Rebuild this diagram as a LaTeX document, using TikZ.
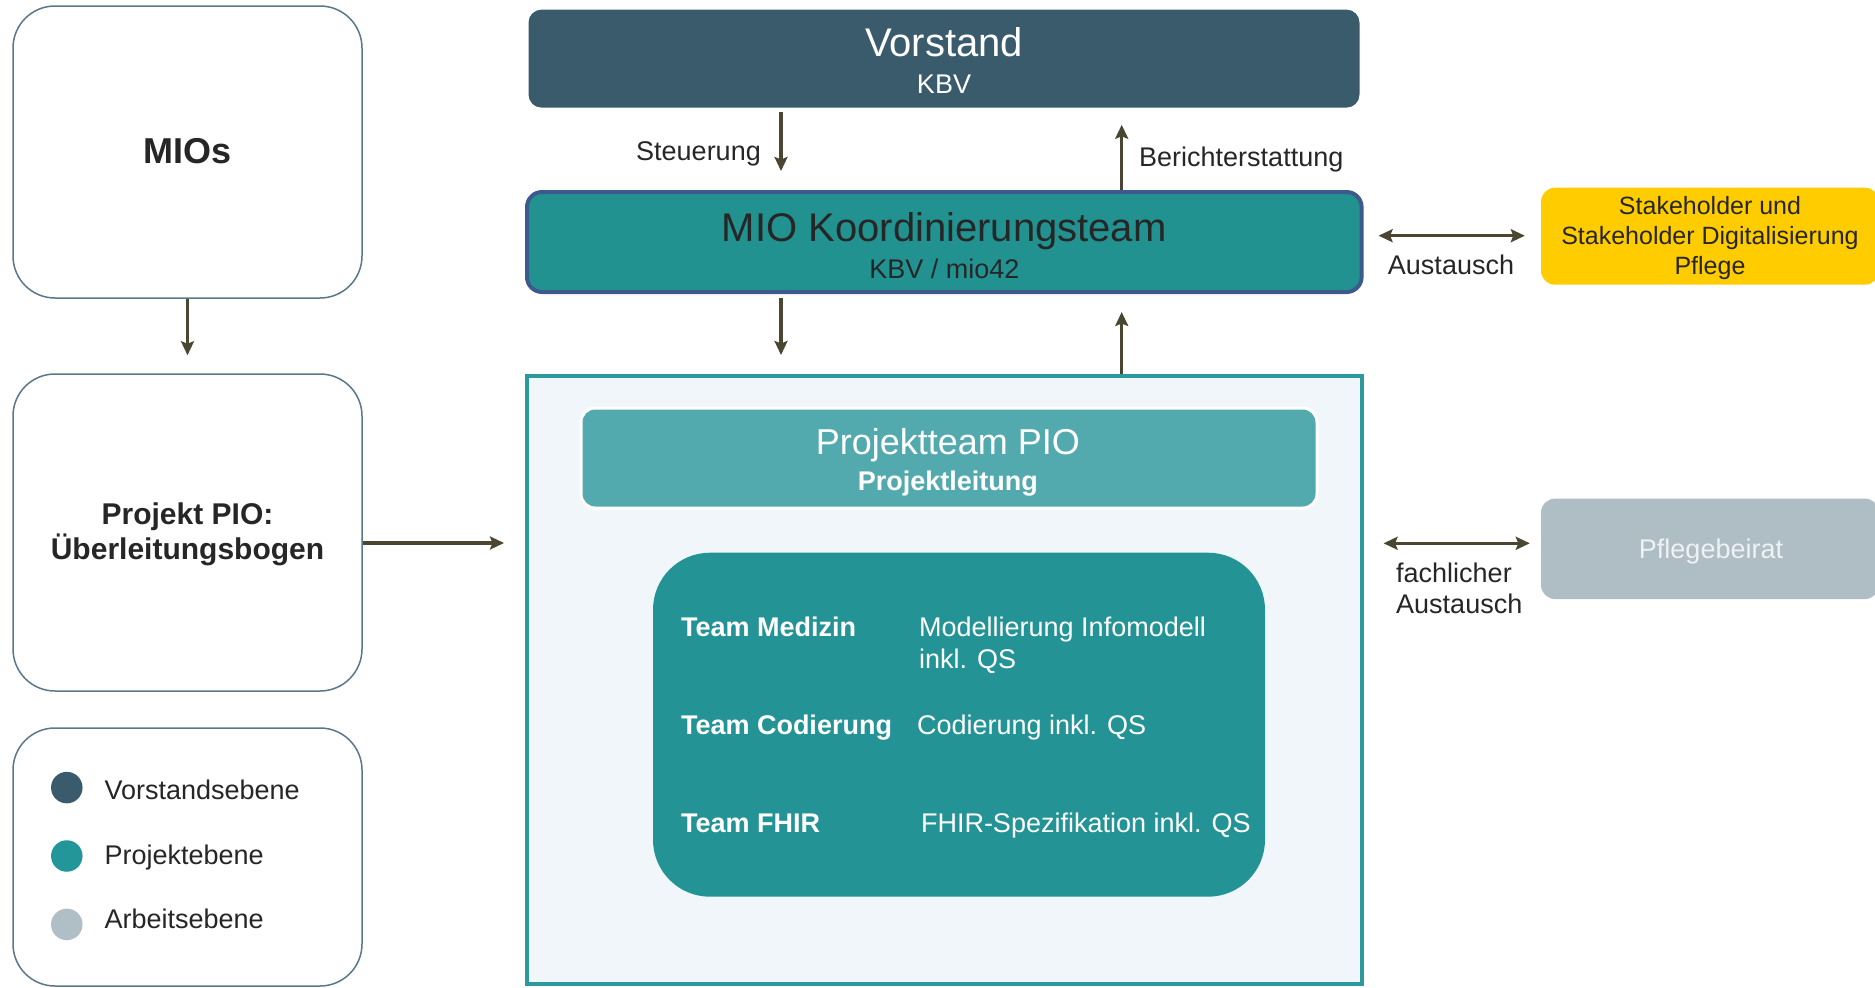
\documentclass[tikz,border=0pt]{standalone}
\usepackage{fontspec}
\setmainfont{Liberation Sans}
\usetikzlibrary{arrows.meta,calc}
\definecolor{vorstandc}{HTML}{3A5B6B}
\definecolor{koordc}{HTML}{229291}
\definecolor{koordborder}{HTML}{3D5A8C}
\definecolor{contfill}{HTML}{F0F6F9}
\definecolor{contborder}{HTML}{2A9A9A}
\definecolor{ptc}{HTML}{53AAAE}
\definecolor{teamsc}{HTML}{239395}
\definecolor{stakec}{HTML}{FFCC00}
\definecolor{pflegec}{HTML}{AFBDC4}
\definecolor{pflegetext}{HTML}{EEF2F4}
\definecolor{leftborder}{HTML}{5A7888}
\definecolor{arrowc}{HTML}{4B4632}
\definecolor{textc}{HTML}{262626}
\definecolor{legA}{HTML}{3A5B6B}
\definecolor{legB}{HTML}{23969A}
\definecolor{legC}{HTML}{B0BEC5}
\begin{document}
\begin{tikzpicture}[x=1pt,y=-1pt,
  leftbox/.style={draw=leftborder, line width=1.5pt, fill=white, rounded corners=42pt, inner sep=0pt},
  flatbox/.style={inner sep=0pt, rounded corners=13pt},
  arr/.style={draw=arrowc, line width=3.2pt, -{Stealth[length=14pt,width=13pt,inset=2.5pt]}},
  dblarr/.style={draw=arrowc, line width=3.2pt, {Stealth[length=14pt,width=13pt,inset=2.5pt]}-{Stealth[length=14pt,width=13pt,inset=2.5pt]}},
  lbl/.style={font=\fontsize{27pt}{31pt}\selectfont, text=textc, inner sep=0pt},
  wlbl/.style={font=\fontsize{27pt}{31pt}\selectfont, text=white, inner sep=0pt},
  wbold/.style={font=\fontsize{27pt}{31pt}\selectfont\bfseries, text=white, inner sep=0pt},
  bigt/.style={font=\fontsize{40pt}{46pt}\selectfont, inner sep=0pt},
  legdot/.style={circle, inner sep=0pt, minimum size=31.5pt}
]
\useasboundingbox (0,0) rectangle (1875,988);

% helper coordinates
\coordinate (colA) at (781,0);
\coordinate (colB) at (1121.7,0);
\coordinate (rowTop) at (0,235.7);
\coordinate (rowMid) at (0,543.3);
\coordinate (rowPio) at (0,543);

% left column
\node[leftbox, minimum width=349pt, minimum height=292pt] (mios) at (187.5,152) {};
\node[font=\fontsize{36pt}{40pt}\selectfont\bfseries, text=textc, inner sep=0pt, anchor=base] (miosT) at (187.5,163.3) {MIOs};

\node[leftbox, minimum width=349pt, minimum height=317pt] (pio) at (187.5,532.5) {};
\node[font=\fontsize{30pt}{34pt}\selectfont\bfseries, text=textc, inner sep=0pt, anchor=base] (pioT1) at (187.5,524.8) {Projekt PIO:};
\node[font=\fontsize{30pt}{34pt}\selectfont\bfseries, text=textc, inner sep=0pt, anchor=base] (pioT2) at (187.5,559) {Überleitungsbogen};

\node[leftbox, minimum width=349pt, minimum height=258pt] (legend) at (187.5,857) {};
\node[legdot, fill=legA] (dotA) at (66.8,787.6) {};
\node[legdot, fill=legB] (dotB) at (66.8,856) {};
\node[legdot, fill=legC] (dotC) at (66.8,924.4) {};
\node[lbl, anchor=base west] (legAT) at (104.3,799.5) {Vorstandsebene};
\node[lbl, anchor=base west] (legBT) at (104.3,864.8) {Projektebene};
\node[lbl, anchor=base west] (legCT) at (104.3,928.8) {Arbeitsebene};

% centre column
\node[flatbox, fill=vorstandc, minimum width=831pt, minimum height=98pt] (vorstand) at (944,58.6) {};
\node[bigt, text=white, anchor=base] (vorstandT) at (944,56) {Vorstand};
\node[wlbl, anchor=base] (vorstandS) at (944,93) {KBV};

\node[flatbox, fill=koordc, draw=koordborder, line width=4pt, rounded corners=15pt, minimum width=834.6pt, minimum height=100pt] (koord) at (944.3,242) {};
\node[bigt, text=textc, anchor=base] (koordT) at (944.3,241.5) {MIO Koordinierungsteam};
\node[lbl, anchor=base] (koordS) at (944.3,278.3) {KBV / mio42};

\node[fill=contfill, draw=contborder, line width=4pt, inner sep=0pt, minimum width=834.6pt, minimum height=608pt] (container) at (944.3,680) {};

\node[flatbox, fill=ptc, draw=white, line width=3pt, rounded corners=14pt, minimum width=736pt, minimum height=100pt] (pteam) at (949,458) {};
\node[font=\fontsize{36pt}{40pt}\selectfont, text=white, inner sep=0pt, anchor=base] (pteamT) at (947.8,454) {Projektteam PIO};
\node[wbold, anchor=base] (pteamS) at (947.8,490) {Projektleitung};

\node[fill=teamsc, inner sep=0pt, rounded corners=57pt, minimum width=612pt, minimum height=344pt] (teams) at (959,724.7) {};
\node[wbold, anchor=base west] (tMed) at (680.8,636.8) {Team Medizin};
\node[wlbl, anchor=base west] (tMedD1) at (919,636.8) {Modellierung Infomodell};
\node[wlbl, anchor=base west] (tMedD2) at (919,668) {inkl. QS};
\node[wbold, anchor=base west] (tCod) at (680.8,734) {Team Codierung};
\node[wlbl, anchor=base west] (tCodD) at (916.8,734) {Codierung inkl. QS};
\node[wbold, anchor=base west] (tFhir) at (680.8,832) {Team FHIR};
\node[wlbl, anchor=base west] (tFhirD) at (920.8,832) {FHIR-Spezifikation inkl. QS};

% right column
\node[flatbox, fill=stakec, rounded corners=14pt, minimum width=338pt, minimum height=97pt] (stake) at (1710,236.2) {};
\node[font=\fontsize{25pt}{30pt}\selectfont, text=textc, inner sep=0pt, anchor=base] (stakeT1) at (1710,214) {Stakeholder und};
\node[font=\fontsize{25pt}{30pt}\selectfont, text=textc, inner sep=0pt, anchor=base] (stakeT2) at (1710,244.3) {Stakeholder Digitalisierung};
\node[font=\fontsize{25pt}{30pt}\selectfont, text=textc, inner sep=0pt, anchor=base] (stakeT3) at (1710,274) {Pflege};

\node[flatbox, fill=pflegec, rounded corners=14pt, minimum width=338pt, minimum height=100.4pt] (pflege) at (1710,548.8) {};
\node[lbl, text=pflegetext, anchor=base] (pflegeT) at (1711,558.3) {Pflegebeirat};

% connectors
\draw[arr, shorten >=18pt] (mios) -- (pio);
\draw[arr, shorten >=21pt] (pio.east |- rowPio) -- (container.west |- rowPio);
\draw[arr, shorten <=4pt, shorten >=19pt] (vorstand.south -| colA) -- (koord.north -| colA);
\draw[arr, shorten <=0pt, shorten >=17pt] (koord.north -| colB) -- (vorstand.south -| colB);
\draw[arr, shorten <=4pt, shorten >=19pt] (koord.south -| colA) -- (container.north -| colA);
\draw[arr, shorten >=18pt] (container.north -| colB) -- (koord.south -| colB);
\draw[dblarr, shorten <=15pt, shorten >=16pt] (koord.east |- rowTop) -- (stake.west |- rowTop);
\draw[dblarr, shorten <=20pt, shorten >=11pt] (container.east |- rowMid) -- (pflege.west |- rowMid);

% connector labels
\node[lbl, anchor=base east] (steuer) at (761,160) {Steuerung};
\node[lbl, anchor=base west] (bericht) at (1139,166) {Berichterstattung};
\node[lbl, anchor=base] (aust) at (1451,274) {Austausch};
\node[lbl, anchor=base west] (fach1) at (1396,582.7) {fachlicher};
\node[lbl, anchor=base west] (fach2) at (1396,613.3) {Austausch};
\end{tikzpicture}
\end{document}
